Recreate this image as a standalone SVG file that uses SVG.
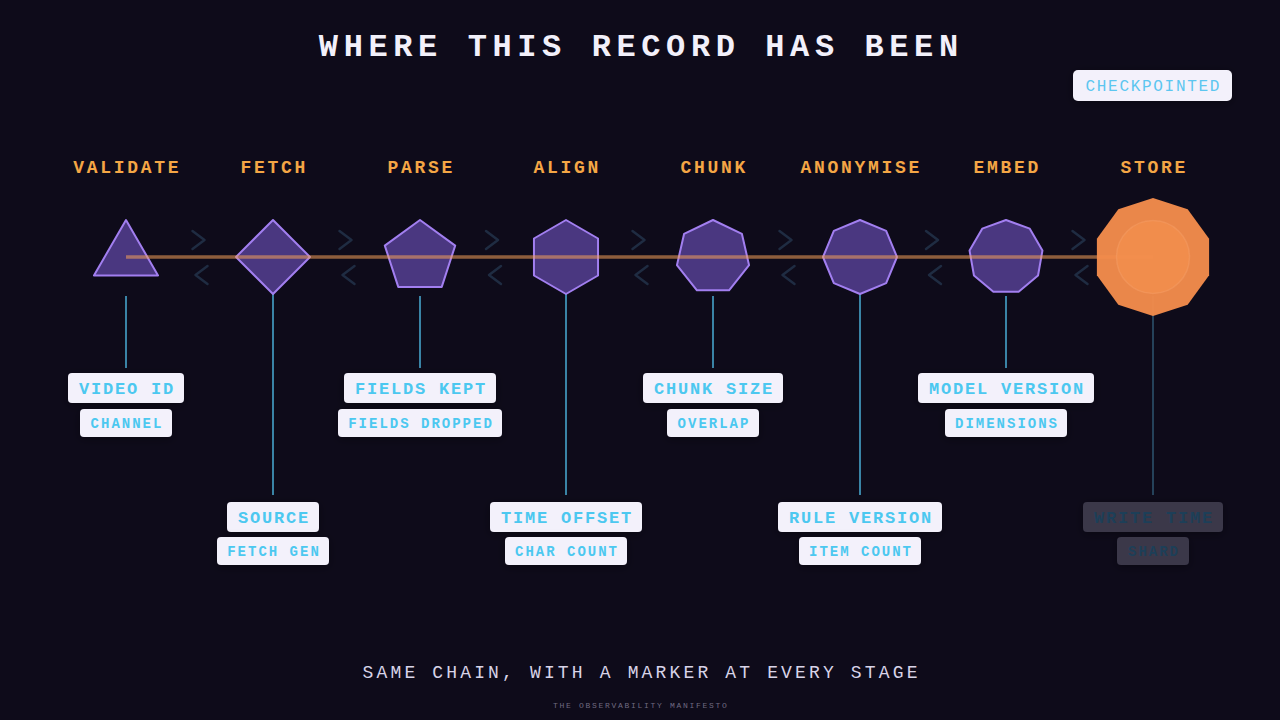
<svg xmlns="http://www.w3.org/2000/svg" width="1280" height="720" viewBox="0 0 1280 720">
<defs>
<style>
.bg{fill:#0e0b1a}
.title{font-family:"Liberation Mono",monospace;font-weight:bold;font-size:32px;letter-spacing:5.6px;fill:#f2f0fa;text-anchor:middle}
.stage{font-family:"Liberation Mono",monospace;font-weight:bold;font-size:18px;letter-spacing:2.7px;fill:#f4a645;text-anchor:middle}
.poly{fill:#7c5cd6;fill-opacity:0.55;stroke:#a27ff0;stroke-width:2;stroke-linejoin:round}
.timeline{stroke:#f5a35a;stroke-opacity:0.55;stroke-width:3.5;fill:none}
.chev{fill:none;stroke:#1f2c42;stroke-width:2.5;stroke-linecap:round;stroke-linejoin:round}
.stem{stroke:#3a84a6;stroke-width:2}
.stem-dim{stroke:#25425a;stroke-width:2}
.badge{fill:#f3f1fb;filter:url(#sh)}
.badge-dim{fill:#3a3748;filter:url(#sh)}
.pt{font-family:"Liberation Mono",monospace;font-weight:bold;font-size:17px;letter-spacing:1.8px;fill:#4cc8f0;text-anchor:middle}
.st{font-family:"Liberation Mono",monospace;font-weight:bold;font-size:14px;letter-spacing:2px;fill:#4cc8f0;text-anchor:middle}
.dimt{fill:#1d3f58}
.cp{font-family:"Liberation Mono",monospace;font-size:16px;letter-spacing:1.7px;fill:#5cc6f0;text-anchor:middle}
.sub{font-family:"Liberation Mono",monospace;font-size:18px;letter-spacing:3.15px;fill:#d8d4e8;text-anchor:middle}
.foot{font-family:"Liberation Mono",monospace;font-size:8px;letter-spacing:1.7px;fill:#6e6a80;text-anchor:middle}
</style>
<filter id="sh" x="-20%" y="-40%" width="140%" height="180%">
<feDropShadow dx="0" dy="2" stdDeviation="5" flood-color="#000000" flood-opacity="0.35"/>
</filter>
</defs>
<rect class="bg" x="0" y="0" width="1280" height="720"/>

<text class="title" x="641.3" y="55.5">WHERE THIS RECORD HAS BEEN</text>

<g id="checkpointed">
<rect class="badge" x="1073" y="70" width="159" height="31" rx="5"/>
<text class="cp" x="1153.3" y="91">CHECKPOINTED</text>
</g>

<g id="connectors">
<polyline class="chev" points="192.5,231 204.5,240 192.5,249"/>
<polyline class="chev" points="207.5,266 195.5,275 207.5,284"/>
<polyline class="chev" points="339.5,231 351.5,240 339.5,249"/>
<polyline class="chev" points="354.5,266 342.5,275 354.5,284"/>
<polyline class="chev" points="486,231 498,240 486,249"/>
<polyline class="chev" points="501,266 489,275 501,284"/>
<polyline class="chev" points="632.5,231 644.5,240 632.5,249"/>
<polyline class="chev" points="647.5,266 635.5,275 647.5,284"/>
<polyline class="chev" points="779.5,231 791.5,240 779.5,249"/>
<polyline class="chev" points="794.5,266 782.5,275 794.5,284"/>
<polyline class="chev" points="926,231 938,240 926,249"/>
<polyline class="chev" points="941,266 929,275 941,284"/>
<polyline class="chev" points="1072.5,231 1084.5,240 1072.5,249"/>
<polyline class="chev" points="1087.5,266 1075.5,275 1087.5,284"/>
<line class="stem" x1="126" y1="296" x2="126" y2="368"/>
<line class="stem" x1="273" y1="294" x2="273" y2="495"/>
<line class="stem" x1="420" y1="296" x2="420" y2="368"/>
<line class="stem" x1="566" y1="294" x2="566" y2="495"/>
<line class="stem" x1="713" y1="296" x2="713" y2="368"/>
<line class="stem" x1="860" y1="294" x2="860" y2="495"/>
<line class="stem" x1="1006" y1="296" x2="1006" y2="368"/>
<line class="stem-dim" x1="1153" y1="296" x2="1153" y2="495"/>
</g>

<g id="validate">
<text class="stage" x="127.3" y="173">VALIDATE</text>
<polygon class="poly" points="126,220 158.04,275.5 93.96,275.5"/>
</g>
<g id="fetch">
<text class="stage" x="274.3" y="173">FETCH</text>
<polygon class="poly" points="273,220 310,257 273,294 236,257"/>
</g>
<g id="parse">
<text class="stage" x="421.3" y="173">PARSE</text>
<polygon class="poly" points="420,220 455.19,245.57 441.75,286.93 398.25,286.93 384.81,245.57"/>
</g>
<g id="align">
<text class="stage" x="567.3" y="173">ALIGN</text>
<polygon class="poly" points="566,220 598.04,238.5 598.04,275.5 566,294 533.96,275.5 533.96,238.5"/>
</g>
<g id="chunk">
<text class="stage" x="714.3" y="173">CHUNK</text>
<polygon class="poly" points="713,220 741.93,233.93 749.07,265.23 729.05,290.34 696.95,290.34 676.93,265.23 684.07,233.93"/>
</g>
<g id="anonymise">
<text class="stage" x="861.3" y="173">ANONYMISE</text>
<polygon class="poly" points="860,220 886.16,230.84 897,257 886.16,283.16 860,294 833.84,283.16 823,257 833.84,230.84"/>
</g>
<g id="embed">
<text class="stage" x="1007.3" y="173">EMBED</text>
<polygon class="poly" points="1006,220 1029.78,228.66 1042.44,250.58 1038.04,275.5 1018.65,291.77 993.35,291.77 973.96,275.5 969.56,250.58 982.22,228.66"/>
</g>

<line id="timeline" class="timeline" x1="126" y1="257" x2="1153" y2="257"/>

<g id="store">
<text class="stage" x="1154.3" y="173">STORE</text>
<polygon fill="#f48d4c" fill-opacity="0.96" points="1153,198 1187.68,209.27 1209.11,238.77 1209.11,275.23 1187.68,304.73 1153,316 1118.32,304.73 1096.89,275.23 1096.89,238.77 1118.32,209.27"/>
<circle cx="1153" cy="257" r="36.5" fill="#f5914f" fill-opacity="0.6" stroke="#f7a068" stroke-width="1.5" stroke-opacity="0.45"/>
</g>

<g id="validate-badges">
<rect class="badge" x="68" y="373" width="116" height="30" rx="4"/>
<text class="pt" x="126.9" y="393.6">VIDEO ID</text>
<rect class="badge" x="80" y="409" width="92" height="28" rx="4"/>
<text class="st" x="127" y="427.6">CHANNEL</text>
</g>
<g id="parse-badges">
<rect class="badge" x="344" y="373" width="152" height="30" rx="4"/>
<text class="pt" x="420.9" y="393.6">FIELDS KEPT</text>
<rect class="badge" x="338" y="409" width="164" height="28" rx="4"/>
<text class="st" x="421" y="427.6">FIELDS DROPPED</text>
</g>
<g id="chunk-badges">
<rect class="badge" x="643" y="373" width="140" height="30" rx="4"/>
<text class="pt" x="713.9" y="393.6">CHUNK SIZE</text>
<rect class="badge" x="667" y="409" width="92" height="28" rx="4"/>
<text class="st" x="714" y="427.6">OVERLAP</text>
</g>
<g id="embed-badges">
<rect class="badge" x="918" y="373" width="176" height="30" rx="4"/>
<text class="pt" x="1006.9" y="393.6">MODEL VERSION</text>
<rect class="badge" x="945" y="409" width="122" height="28" rx="4"/>
<text class="st" x="1007" y="427.6">DIMENSIONS</text>
</g>
<g id="fetch-badges">
<rect class="badge" x="227" y="502" width="92" height="30" rx="4"/>
<text class="pt" x="273.9" y="522.6">SOURCE</text>
<rect class="badge" x="217" y="537" width="112" height="28" rx="4"/>
<text class="st" x="274" y="555.6">FETCH GEN</text>
</g>
<g id="align-badges">
<rect class="badge" x="490" y="502" width="152" height="30" rx="4"/>
<text class="pt" x="566.9" y="522.6">TIME OFFSET</text>
<rect class="badge" x="505" y="537" width="122" height="28" rx="4"/>
<text class="st" x="567" y="555.6">CHAR COUNT</text>
</g>
<g id="anonymise-badges">
<rect class="badge" x="778" y="502" width="164" height="30" rx="4"/>
<text class="pt" x="860.9" y="522.6">RULE VERSION</text>
<rect class="badge" x="799" y="537" width="122" height="28" rx="4"/>
<text class="st" x="861" y="555.6">ITEM COUNT</text>
</g>
<g id="store-badges">
<rect class="badge-dim" x="1083" y="502" width="140" height="30" rx="4"/>
<text class="pt dimt" x="1153.9" y="522.6">WRITE TIME</text>
<rect class="badge-dim" x="1117" y="537" width="72" height="28" rx="4"/>
<text class="st dimt" x="1154" y="555.6">SHARD</text>
</g>

<text class="sub" x="641.6" y="678">SAME CHAIN, WITH A MARKER AT EVERY STAGE</text>
<text class="foot" x="640.8" y="707.8">THE OBSERVABILITY MANIFESTO</text>
</svg>
